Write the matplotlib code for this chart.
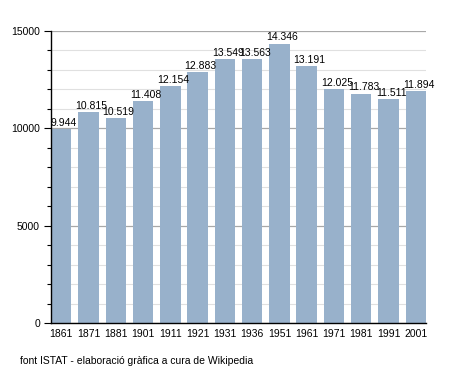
import matplotlib
matplotlib.use("Agg")
import matplotlib.pyplot as plt
from matplotlib.ticker import MultipleLocator

years = ["1861", "1871", "1881", "1901", "1911", "1921", "1931", "1936",
         "1951", "1961", "1971", "1981", "1991", "2001"]
population = [9944, 10815, 10519, 11408, 12154, 12883, 13549, 13563,
              14346, 13191, 12025, 11783, 11511, 11894]
value_labels = ["9.944", "10.815", "10.519", "11.408", "12.154", "12.883", "13.549",
                "13.563", "14.346", "13.191", "12.025", "11.783", "11.511", "11.894"]
footer = "font ISTAT - elaboració gràfica a cura de Wikipedia"

plt.rcParams['font.family'] = ['Liberation Sans', 'DejaVu Sans']

fig = plt.figure(figsize=(4.55, 3.73), dpi=100)
W, H = 455, 373
left, right, top, bottom = 51, 426, 31, 323
ax = fig.add_axes([left / W, 1 - bottom / H, (right - left) / W, (bottom - top) / H])

x = list(range(len(years)))
ax.bar(x, population, width=0.75, color="#98b1cb", zorder=2)
ax.set_xlim(-0.375, len(years) - 1 + 0.375)
ax.set_ylim(0, 15000)

ax.yaxis.set_major_locator(MultipleLocator(5000))
ax.yaxis.set_minor_locator(MultipleLocator(1000))
ax.grid(axis="y", which="minor", color="#e0e0e0", linewidth=0.8, zorder=0)
ax.grid(axis="y", which="major", color="#a8a8a8", linewidth=0.9, zorder=0)

ax.set_xticks(x)
ax.set_xticklabels(years, fontsize=7.5)
ax.tick_params(axis="x", length=0, pad=4)
ax.tick_params(axis="y", which="major", length=5, width=0.8, labelsize=7.5, pad=3, direction="out")
ax.tick_params(axis="y", which="minor", length=3, width=0.8, direction="out")

for s in ["top", "right"]:
    ax.spines[s].set_visible(False)
ax.spines["left"].set_linewidth(1.0)
ax.spines["bottom"].set_linewidth(1.0)

for xi, v, lab in zip(x, population, value_labels):
    ax.annotate(lab, (xi, v), xytext=(2, 1), textcoords="offset points",
                ha="center", va="bottom", fontsize=7.5, zorder=3)

fig.text(20 / W, 1 - 361 / H, footer, fontsize=7.5, ha="left", va="center")

fig.savefig("out.png", dpi=100)
